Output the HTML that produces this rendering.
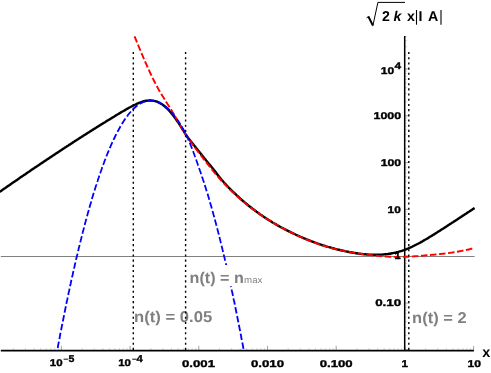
<!DOCTYPE html>
<html><head><meta charset="utf-8"><style>
html,body{margin:0;padding:0;background:#fff;}
svg{display:block;will-change:transform;opacity:0.999}
text{font-family:"Liberation Sans",sans-serif;font-weight:bold;fill:#000;text-rendering:geometricPrecision}
</style></head><body>
<svg width="491" height="373" viewBox="0 0 491 373">
<rect width="491" height="373" fill="#fff"/>
<!-- gray line y=1 -->
<line x1="0.8" y1="256.5" x2="474.6" y2="256.5" stroke="#808080" stroke-width="1"/>
<!-- ticks -->
<line x1="13.4" y1="350.5" x2="13.4" y2="348.1" stroke="#999" stroke-width="0.4"/>
<line x1="25.5" y1="350.5" x2="25.5" y2="348.1" stroke="#999" stroke-width="0.4"/>
<line x1="34.1" y1="350.5" x2="34.1" y2="348.1" stroke="#999" stroke-width="0.4"/>
<line x1="40.7" y1="350.5" x2="40.7" y2="348.1" stroke="#999" stroke-width="0.4"/>
<line x1="46.2" y1="350.5" x2="46.2" y2="348.1" stroke="#999" stroke-width="0.4"/>
<line x1="50.8" y1="350.5" x2="50.8" y2="348.1" stroke="#999" stroke-width="0.4"/>
<line x1="54.7" y1="350.5" x2="54.7" y2="348.1" stroke="#999" stroke-width="0.4"/>
<line x1="58.3" y1="350.5" x2="58.3" y2="348.1" stroke="#999" stroke-width="0.4"/>
<line x1="61.4" y1="350.5" x2="61.4" y2="345.9" stroke="#999" stroke-width="0.9"/>
<line x1="82.1" y1="350.5" x2="82.1" y2="348.1" stroke="#999" stroke-width="0.4"/>
<line x1="94.2" y1="350.5" x2="94.2" y2="348.1" stroke="#999" stroke-width="0.4"/>
<line x1="102.8" y1="350.5" x2="102.8" y2="348.1" stroke="#999" stroke-width="0.4"/>
<line x1="109.4" y1="350.5" x2="109.4" y2="348.1" stroke="#999" stroke-width="0.4"/>
<line x1="114.9" y1="350.5" x2="114.9" y2="348.1" stroke="#999" stroke-width="0.4"/>
<line x1="119.5" y1="350.5" x2="119.5" y2="348.1" stroke="#999" stroke-width="0.4"/>
<line x1="123.4" y1="350.5" x2="123.4" y2="348.1" stroke="#999" stroke-width="0.4"/>
<line x1="127.0" y1="350.5" x2="127.0" y2="348.1" stroke="#999" stroke-width="0.4"/>
<line x1="130.1" y1="350.5" x2="130.1" y2="345.9" stroke="#999" stroke-width="0.9"/>
<line x1="150.8" y1="350.5" x2="150.8" y2="348.1" stroke="#999" stroke-width="0.4"/>
<line x1="162.9" y1="350.5" x2="162.9" y2="348.1" stroke="#999" stroke-width="0.4"/>
<line x1="171.5" y1="350.5" x2="171.5" y2="348.1" stroke="#999" stroke-width="0.4"/>
<line x1="178.1" y1="350.5" x2="178.1" y2="348.1" stroke="#999" stroke-width="0.4"/>
<line x1="183.6" y1="350.5" x2="183.6" y2="348.1" stroke="#999" stroke-width="0.4"/>
<line x1="188.2" y1="350.5" x2="188.2" y2="348.1" stroke="#999" stroke-width="0.4"/>
<line x1="192.1" y1="350.5" x2="192.1" y2="348.1" stroke="#999" stroke-width="0.4"/>
<line x1="195.7" y1="350.5" x2="195.7" y2="348.1" stroke="#999" stroke-width="0.4"/>
<line x1="198.8" y1="350.5" x2="198.8" y2="345.9" stroke="#999" stroke-width="0.9"/>
<line x1="219.5" y1="350.5" x2="219.5" y2="348.1" stroke="#999" stroke-width="0.4"/>
<line x1="231.6" y1="350.5" x2="231.6" y2="348.1" stroke="#999" stroke-width="0.4"/>
<line x1="240.2" y1="350.5" x2="240.2" y2="348.1" stroke="#999" stroke-width="0.4"/>
<line x1="246.8" y1="350.5" x2="246.8" y2="348.1" stroke="#999" stroke-width="0.4"/>
<line x1="252.3" y1="350.5" x2="252.3" y2="348.1" stroke="#999" stroke-width="0.4"/>
<line x1="256.9" y1="350.5" x2="256.9" y2="348.1" stroke="#999" stroke-width="0.4"/>
<line x1="260.8" y1="350.5" x2="260.8" y2="348.1" stroke="#999" stroke-width="0.4"/>
<line x1="264.4" y1="350.5" x2="264.4" y2="348.1" stroke="#999" stroke-width="0.4"/>
<line x1="267.5" y1="350.5" x2="267.5" y2="345.9" stroke="#999" stroke-width="0.9"/>
<line x1="288.2" y1="350.5" x2="288.2" y2="348.1" stroke="#999" stroke-width="0.4"/>
<line x1="300.3" y1="350.5" x2="300.3" y2="348.1" stroke="#999" stroke-width="0.4"/>
<line x1="308.9" y1="350.5" x2="308.9" y2="348.1" stroke="#999" stroke-width="0.4"/>
<line x1="315.5" y1="350.5" x2="315.5" y2="348.1" stroke="#999" stroke-width="0.4"/>
<line x1="321.0" y1="350.5" x2="321.0" y2="348.1" stroke="#999" stroke-width="0.4"/>
<line x1="325.6" y1="350.5" x2="325.6" y2="348.1" stroke="#999" stroke-width="0.4"/>
<line x1="329.5" y1="350.5" x2="329.5" y2="348.1" stroke="#999" stroke-width="0.4"/>
<line x1="333.1" y1="350.5" x2="333.1" y2="348.1" stroke="#999" stroke-width="0.4"/>
<line x1="336.2" y1="350.5" x2="336.2" y2="345.9" stroke="#999" stroke-width="0.9"/>
<line x1="356.9" y1="350.5" x2="356.9" y2="348.1" stroke="#999" stroke-width="0.4"/>
<line x1="369.0" y1="350.5" x2="369.0" y2="348.1" stroke="#999" stroke-width="0.4"/>
<line x1="377.6" y1="350.5" x2="377.6" y2="348.1" stroke="#999" stroke-width="0.4"/>
<line x1="384.2" y1="350.5" x2="384.2" y2="348.1" stroke="#999" stroke-width="0.4"/>
<line x1="389.7" y1="350.5" x2="389.7" y2="348.1" stroke="#999" stroke-width="0.4"/>
<line x1="394.3" y1="350.5" x2="394.3" y2="348.1" stroke="#999" stroke-width="0.4"/>
<line x1="398.2" y1="350.5" x2="398.2" y2="348.1" stroke="#999" stroke-width="0.4"/>
<line x1="401.8" y1="350.5" x2="401.8" y2="348.1" stroke="#999" stroke-width="0.4"/>
<line x1="404.9" y1="350.5" x2="404.9" y2="345.9" stroke="#999" stroke-width="0.9"/>
<line x1="425.6" y1="350.5" x2="425.6" y2="348.1" stroke="#999" stroke-width="0.4"/>
<line x1="437.7" y1="350.5" x2="437.7" y2="348.1" stroke="#999" stroke-width="0.4"/>
<line x1="446.3" y1="350.5" x2="446.3" y2="348.1" stroke="#999" stroke-width="0.4"/>
<line x1="452.9" y1="350.5" x2="452.9" y2="348.1" stroke="#999" stroke-width="0.4"/>
<line x1="458.4" y1="350.5" x2="458.4" y2="348.1" stroke="#999" stroke-width="0.4"/>
<line x1="463.0" y1="350.5" x2="463.0" y2="348.1" stroke="#999" stroke-width="0.4"/>
<line x1="466.9" y1="350.5" x2="466.9" y2="348.1" stroke="#999" stroke-width="0.4"/>
<line x1="470.5" y1="350.5" x2="470.5" y2="348.1" stroke="#999" stroke-width="0.4"/>
<line x1="473.6" y1="350.5" x2="473.6" y2="345.9" stroke="#999" stroke-width="0.9"/>
<line x1="404.9" y1="349.8" x2="408.79999999999995" y2="349.8" stroke="#999" stroke-width="0.9"/>
<line x1="404.9" y1="335.7" x2="407.09999999999997" y2="335.7" stroke="#999" stroke-width="0.4"/>
<line x1="404.9" y1="327.5" x2="407.09999999999997" y2="327.5" stroke="#999" stroke-width="0.4"/>
<line x1="404.9" y1="321.6" x2="407.09999999999997" y2="321.6" stroke="#999" stroke-width="0.4"/>
<line x1="404.9" y1="317.1" x2="407.09999999999997" y2="317.1" stroke="#999" stroke-width="0.4"/>
<line x1="404.9" y1="313.4" x2="407.09999999999997" y2="313.4" stroke="#999" stroke-width="0.4"/>
<line x1="404.9" y1="310.2" x2="407.09999999999997" y2="310.2" stroke="#999" stroke-width="0.4"/>
<line x1="404.9" y1="307.5" x2="407.09999999999997" y2="307.5" stroke="#999" stroke-width="0.4"/>
<line x1="404.9" y1="305.1" x2="407.09999999999997" y2="305.1" stroke="#999" stroke-width="0.4"/>
<line x1="404.9" y1="303.0" x2="408.79999999999995" y2="303.0" stroke="#999" stroke-width="0.9"/>
<line x1="404.9" y1="288.9" x2="407.09999999999997" y2="288.9" stroke="#999" stroke-width="0.4"/>
<line x1="404.9" y1="280.7" x2="407.09999999999997" y2="280.7" stroke="#999" stroke-width="0.4"/>
<line x1="404.9" y1="274.8" x2="407.09999999999997" y2="274.8" stroke="#999" stroke-width="0.4"/>
<line x1="404.9" y1="270.3" x2="407.09999999999997" y2="270.3" stroke="#999" stroke-width="0.4"/>
<line x1="404.9" y1="266.6" x2="407.09999999999997" y2="266.6" stroke="#999" stroke-width="0.4"/>
<line x1="404.9" y1="263.4" x2="407.09999999999997" y2="263.4" stroke="#999" stroke-width="0.4"/>
<line x1="404.9" y1="260.7" x2="407.09999999999997" y2="260.7" stroke="#999" stroke-width="0.4"/>
<line x1="404.9" y1="258.3" x2="407.09999999999997" y2="258.3" stroke="#999" stroke-width="0.4"/>
<line x1="404.9" y1="256.2" x2="408.79999999999995" y2="256.2" stroke="#999" stroke-width="0.9"/>
<line x1="404.9" y1="242.1" x2="407.09999999999997" y2="242.1" stroke="#999" stroke-width="0.4"/>
<line x1="404.9" y1="233.9" x2="407.09999999999997" y2="233.9" stroke="#999" stroke-width="0.4"/>
<line x1="404.9" y1="228.0" x2="407.09999999999997" y2="228.0" stroke="#999" stroke-width="0.4"/>
<line x1="404.9" y1="223.5" x2="407.09999999999997" y2="223.5" stroke="#999" stroke-width="0.4"/>
<line x1="404.9" y1="219.8" x2="407.09999999999997" y2="219.8" stroke="#999" stroke-width="0.4"/>
<line x1="404.9" y1="216.6" x2="407.09999999999997" y2="216.6" stroke="#999" stroke-width="0.4"/>
<line x1="404.9" y1="213.9" x2="407.09999999999997" y2="213.9" stroke="#999" stroke-width="0.4"/>
<line x1="404.9" y1="211.5" x2="407.09999999999997" y2="211.5" stroke="#999" stroke-width="0.4"/>
<line x1="404.9" y1="209.4" x2="408.79999999999995" y2="209.4" stroke="#999" stroke-width="0.9"/>
<line x1="404.9" y1="195.3" x2="407.09999999999997" y2="195.3" stroke="#999" stroke-width="0.4"/>
<line x1="404.9" y1="187.1" x2="407.09999999999997" y2="187.1" stroke="#999" stroke-width="0.4"/>
<line x1="404.9" y1="181.2" x2="407.09999999999997" y2="181.2" stroke="#999" stroke-width="0.4"/>
<line x1="404.9" y1="176.7" x2="407.09999999999997" y2="176.7" stroke="#999" stroke-width="0.4"/>
<line x1="404.9" y1="173.0" x2="407.09999999999997" y2="173.0" stroke="#999" stroke-width="0.4"/>
<line x1="404.9" y1="169.8" x2="407.09999999999997" y2="169.8" stroke="#999" stroke-width="0.4"/>
<line x1="404.9" y1="167.1" x2="407.09999999999997" y2="167.1" stroke="#999" stroke-width="0.4"/>
<line x1="404.9" y1="164.7" x2="407.09999999999997" y2="164.7" stroke="#999" stroke-width="0.4"/>
<line x1="404.9" y1="162.6" x2="408.79999999999995" y2="162.6" stroke="#999" stroke-width="0.9"/>
<line x1="404.9" y1="148.5" x2="407.09999999999997" y2="148.5" stroke="#999" stroke-width="0.4"/>
<line x1="404.9" y1="140.3" x2="407.09999999999997" y2="140.3" stroke="#999" stroke-width="0.4"/>
<line x1="404.9" y1="134.4" x2="407.09999999999997" y2="134.4" stroke="#999" stroke-width="0.4"/>
<line x1="404.9" y1="129.9" x2="407.09999999999997" y2="129.9" stroke="#999" stroke-width="0.4"/>
<line x1="404.9" y1="126.2" x2="407.09999999999997" y2="126.2" stroke="#999" stroke-width="0.4"/>
<line x1="404.9" y1="123.0" x2="407.09999999999997" y2="123.0" stroke="#999" stroke-width="0.4"/>
<line x1="404.9" y1="120.3" x2="407.09999999999997" y2="120.3" stroke="#999" stroke-width="0.4"/>
<line x1="404.9" y1="117.9" x2="407.09999999999997" y2="117.9" stroke="#999" stroke-width="0.4"/>
<line x1="404.9" y1="115.8" x2="408.79999999999995" y2="115.8" stroke="#999" stroke-width="0.9"/>
<line x1="404.9" y1="101.7" x2="407.09999999999997" y2="101.7" stroke="#999" stroke-width="0.4"/>
<line x1="404.9" y1="93.5" x2="407.09999999999997" y2="93.5" stroke="#999" stroke-width="0.4"/>
<line x1="404.9" y1="87.6" x2="407.09999999999997" y2="87.6" stroke="#999" stroke-width="0.4"/>
<line x1="404.9" y1="83.1" x2="407.09999999999997" y2="83.1" stroke="#999" stroke-width="0.4"/>
<line x1="404.9" y1="79.4" x2="407.09999999999997" y2="79.4" stroke="#999" stroke-width="0.4"/>
<line x1="404.9" y1="76.2" x2="407.09999999999997" y2="76.2" stroke="#999" stroke-width="0.4"/>
<line x1="404.9" y1="73.5" x2="407.09999999999997" y2="73.5" stroke="#999" stroke-width="0.4"/>
<line x1="404.9" y1="71.1" x2="407.09999999999997" y2="71.1" stroke="#999" stroke-width="0.4"/>
<line x1="404.9" y1="69.0" x2="408.79999999999995" y2="69.0" stroke="#999" stroke-width="0.9"/>
<line x1="404.9" y1="54.9" x2="407.09999999999997" y2="54.9" stroke="#999" stroke-width="0.4"/>
<line x1="404.9" y1="46.7" x2="407.09999999999997" y2="46.7" stroke="#999" stroke-width="0.4"/>
<line x1="404.9" y1="40.8" x2="407.09999999999997" y2="40.8" stroke="#999" stroke-width="0.4"/>
<line x1="404.9" y1="36.3" x2="407.09999999999997" y2="36.3" stroke="#999" stroke-width="0.4"/>
<!-- axes -->
<line x1="0.8" y1="350.65" x2="473.9" y2="350.65" stroke="#000" stroke-width="1.6"/>
<line x1="404.7" y1="36" x2="404.7" y2="350.5" stroke="#000" stroke-width="1.5"/>
<!-- curves -->
<clipPath id="cp"><rect x="-5" y="30" width="480" height="320.5"/></clipPath>
<g clip-path="url(#cp)" fill="none" stroke-linejoin="round">
<path d="M-3.0,193.7 L0.0,191.6 L1.0,190.9 L2.0,190.2 L3.0,189.5 L4.0,188.8 L5.0,188.2 L6.0,187.5 L7.0,186.8 L8.0,186.1 L9.0,185.4 L10.0,184.7 L11.0,184.0 L12.0,183.3 L13.0,182.6 L14.0,181.9 L15.0,181.2 L16.0,180.6 L17.0,179.9 L18.0,179.2 L19.0,178.5 L20.0,177.8 L21.0,177.1 L22.0,176.4 L23.0,175.8 L24.0,175.1 L25.0,174.4 L26.0,173.7 L27.0,173.0 L28.0,172.3 L29.0,171.7 L30.0,171.0 L31.0,170.3 L32.0,169.6 L33.0,168.9 L34.0,168.3 L35.0,167.6 L36.0,166.9 L37.0,166.2 L38.0,165.6 L39.0,164.9 L40.0,164.2 L41.0,163.5 L42.0,162.9 L43.0,162.2 L44.0,161.5 L45.0,160.9 L46.0,160.2 L47.0,159.5 L48.0,158.9 L49.0,158.2 L50.0,157.5 L51.0,156.9 L52.0,156.2 L53.0,155.5 L54.0,154.9 L55.0,154.2 L56.0,153.5 L57.0,152.9 L58.0,152.2 L59.0,151.6 L60.0,150.9 L61.0,150.2 L62.0,149.6 L63.0,148.9 L64.0,148.3 L65.0,147.6 L66.0,147.0 L67.0,146.3 L68.0,145.7 L69.0,145.0 L70.0,144.4 L71.0,143.7 L72.0,143.1 L73.0,142.4 L74.0,141.8 L75.0,141.1 L76.0,140.5 L77.0,139.8 L78.0,139.2 L79.0,138.5 L80.0,137.9 L81.0,137.3 L82.0,136.6 L83.0,136.0 L84.0,135.3 L85.0,134.7 L86.0,134.1 L87.0,133.4 L88.0,132.8 L89.0,132.2 L90.0,131.5 L91.0,130.9 L92.0,130.3 L93.0,129.6 L94.0,129.0 L95.0,128.4 L96.0,127.8 L97.0,127.1 L98.0,126.5 L99.0,125.9 L100.0,125.3 L101.0,124.6 L102.0,124.0 L103.0,123.4 L104.0,122.8 L105.0,122.2 L106.0,121.5 L107.0,120.9 L108.0,120.3 L109.0,119.7 L110.0,119.1 L111.0,118.5 L112.0,117.9 L113.0,117.3 L114.0,116.7 L115.0,116.0 L116.0,115.4 L117.0,114.8 L118.0,114.2 L119.0,113.6 L120.0,113.0 L121.0,112.4 L122.0,111.8 L123.0,111.3 L124.0,110.7 L125.0,110.1 L126.0,109.5 L127.0,108.9 L128.0,108.4 L129.0,107.8 L130.0,107.3 L131.0,106.7 L132.0,106.2 L133.0,105.7 L134.0,105.2 L135.0,104.7 L136.0,104.2 L137.0,103.7 L138.0,103.3 L139.0,102.9 L140.0,102.5 L141.0,102.1 L142.0,101.8 L143.0,101.5 L144.0,101.2 L145.0,101.0 L146.0,100.8 L147.0,100.7 L148.0,100.6 L149.0,100.5 L150.0,100.5 L151.0,100.5 L152.0,100.6 L153.0,100.7 L154.0,100.9 L155.0,101.1 L156.0,101.4 L157.0,101.7 L158.0,102.1 L159.0,102.6 L160.0,103.1 L161.0,103.7 L162.0,104.3 L163.0,105.0 L164.0,105.8 L165.0,106.6 L166.0,107.5 L167.0,108.4 L168.0,109.4 L169.0,110.4 L170.0,111.6 L171.0,112.7 L172.0,114.0 L173.0,115.3 L174.0,116.6 L175.0,117.9 L176.0,119.3 L177.0,120.8 L178.0,122.2 L179.0,123.7 L180.0,125.3 L181.0,126.8 L182.0,128.5 L183.0,130.1 L184.0,131.7 L185.0,133.3 L186.0,134.8 L187.0,136.2 L188.0,137.6 L189.0,139.0 L190.0,140.3 L191.0,141.6 L192.0,142.8 L193.0,144.0 L194.0,145.3 L195.0,146.5 L196.0,147.8 L197.0,149.0 L198.0,150.3 L199.0,151.5 L200.0,152.8 L201.0,154.0 L202.0,155.3 L203.0,156.5 L204.0,157.8 L205.0,159.0 L206.0,160.3 L207.0,161.5 L208.0,162.7 L209.0,163.9 L210.0,165.1 L211.0,166.3 L212.0,167.6 L213.0,168.8 L214.0,170.1 L215.0,171.3 L216.0,172.6 L217.0,173.9 L218.0,175.2 L219.0,176.5 L220.0,177.7 L221.0,179.0 L222.0,180.2 L223.0,181.3 L224.0,182.5 L225.0,183.6 L226.0,184.6 L227.0,185.7 L228.0,186.8 L229.0,187.8 L230.0,188.8 L231.0,189.8 L232.0,190.8 L233.0,191.8 L234.0,192.7 L235.0,193.7 L236.0,194.6 L237.0,195.6 L238.0,196.5 L239.0,197.4 L240.0,198.3 L241.0,199.2 L242.0,200.1 L243.0,201.0 L244.0,201.8 L245.0,202.7 L246.0,203.5 L247.0,204.3 L248.0,205.1 L249.0,206.0 L250.0,206.7 L251.0,207.5 L252.0,208.3 L253.0,209.1 L254.0,209.8 L255.0,210.6 L256.0,211.3 L257.0,212.1 L258.0,212.8 L259.0,213.5 L260.0,214.2 L261.0,214.9 L262.0,215.6 L263.0,216.3 L264.0,217.0 L265.0,217.6 L266.0,218.3 L267.0,218.9 L268.0,219.6 L269.0,220.2 L270.0,220.8 L271.0,221.4 L272.0,222.1 L273.0,222.7 L274.0,223.2 L275.0,223.8 L276.0,224.4 L277.0,225.0 L278.0,225.6 L279.0,226.1 L280.0,226.7 L281.0,227.2 L282.0,227.8 L283.0,228.3 L284.0,228.8 L285.0,229.4 L286.0,229.9 L287.0,230.4 L288.0,230.9 L289.0,231.4 L290.0,231.9 L291.0,232.4 L292.0,232.9 L293.0,233.3 L294.0,233.8 L295.0,234.3 L296.0,234.8 L297.0,235.2 L298.0,235.7 L299.0,236.1 L300.0,236.6 L301.0,237.0 L302.0,237.4 L303.0,237.9 L304.0,238.3 L305.0,238.7 L306.0,239.1 L307.0,239.5 L308.0,239.9 L309.0,240.3 L310.0,240.7 L311.0,241.1 L312.0,241.5 L313.0,241.8 L314.0,242.2 L315.0,242.6 L316.0,242.9 L317.0,243.3 L318.0,243.6 L319.0,244.0 L320.0,244.3 L321.0,244.7 L322.0,245.0 L323.0,245.3 L324.0,245.6 L325.0,245.9 L326.0,246.3 L327.0,246.6 L328.0,246.9 L329.0,247.1 L330.0,247.4 L331.0,247.7 L332.0,248.0 L333.0,248.3 L334.0,248.5 L335.0,248.8 L336.0,249.1 L337.0,249.3 L338.0,249.6 L339.0,249.8 L340.0,250.0 L341.0,250.3 L342.0,250.5 L343.0,250.7 L344.0,250.9 L345.0,251.2 L346.0,251.4 L347.0,251.6 L348.0,251.8 L349.0,252.0 L350.0,252.2 L351.0,252.3 L352.0,252.5 L353.0,252.7 L354.0,252.9 L355.0,253.0 L356.0,253.2 L357.0,253.3 L358.0,253.5 L359.0,253.6 L360.0,253.7 L361.0,253.9 L362.0,254.0 L363.0,254.1 L364.0,254.2 L365.0,254.3 L366.0,254.4 L367.0,254.5 L368.0,254.5 L369.0,254.6 L370.0,254.6 L371.0,254.7 L372.0,254.7 L373.0,254.8 L374.0,254.8 L375.0,254.8 L376.0,254.8 L377.0,254.8 L378.0,254.8 L379.0,254.7 L380.0,254.7 L381.0,254.6 L382.0,254.6 L383.0,254.5 L384.0,254.4 L385.0,254.3 L386.0,254.2 L387.0,254.1 L388.0,254.0 L389.0,253.8 L390.0,253.7 L391.0,253.5 L392.0,253.3 L393.0,253.1 L394.0,252.9 L395.0,252.7 L396.0,252.5 L397.0,252.2 L398.0,252.0 L399.0,251.7 L400.0,251.4 L401.0,251.1 L402.0,250.8 L403.0,250.4 L404.0,250.1 L405.0,249.7 L406.0,249.3 L407.0,249.0 L408.0,248.5 L409.0,248.1 L410.0,247.7 L411.0,247.2 L412.0,246.8 L413.0,246.3 L414.0,245.8 L415.0,245.3 L416.0,244.8 L417.0,244.3 L418.0,243.8 L419.0,243.2 L420.0,242.7 L421.0,242.1 L422.0,241.6 L423.0,241.0 L424.0,240.4 L425.0,239.8 L426.0,239.3 L427.0,238.7 L428.0,238.1 L429.0,237.4 L430.0,236.8 L431.0,236.2 L432.0,235.6 L433.0,235.0 L434.0,234.4 L435.0,233.7 L436.0,233.1 L437.0,232.5 L438.0,231.8 L439.0,231.2 L440.0,230.6 L441.0,229.9 L442.0,229.3 L443.0,228.7 L444.0,228.0 L445.0,227.4 L446.0,226.7 L447.0,226.1 L448.0,225.4 L449.0,224.8 L450.0,224.1 L451.0,223.5 L452.0,222.8 L453.0,222.2 L454.0,221.5 L455.0,220.9 L456.0,220.2 L457.0,219.6 L458.0,218.9 L459.0,218.3 L460.0,217.6 L461.0,217.0 L462.0,216.3 L463.0,215.6 L464.0,215.0 L465.0,214.3 L466.0,213.7 L467.0,213.0 L468.0,212.3 L469.0,211.7 L470.0,211.0 L471.0,210.4 L472.0,209.7 L473.0,209.0 L474.0,208.4 L474.6,208.0" stroke="#000" stroke-width="2.4"/>
<path d="M134.5,36.3 L135.5,38.7 L136.5,41.1 L137.5,43.6 L138.5,46.0 L139.5,48.4 L140.5,50.8 L141.5,53.1 L142.5,55.5 L143.5,57.8 L144.5,60.2 L145.5,62.5 L146.5,64.7 L147.5,67.0 L148.5,69.2 L149.5,71.4 L150.5,73.5 L151.5,75.7 L152.5,77.7 L153.5,79.8 L154.5,81.7 L155.5,83.7 L156.5,85.6 L157.5,87.4 L158.5,89.2 L159.5,90.9 L160.5,92.6 L161.5,94.3 L162.5,96.0 L163.5,97.6 L164.5,99.2 L165.5,100.8 L166.5,102.4 L167.5,104.0 L168.5,105.5 L169.5,107.1 L170.5,108.7 L171.5,110.3 L172.5,112.0 L173.5,113.6 L174.5,115.3 L175.5,117.0 L176.5,118.7 L177.5,120.5 L178.5,122.3 L179.5,124.0 L180.5,125.8 L181.5,127.5 L182.5,129.2 L183.5,130.9 L184.5,132.6 L185.5,134.2 L186.5,135.7 L187.5,137.2 L188.5,138.7 L189.5,140.1 L190.5,141.5 L191.5,142.9 L192.5,144.3 L193.5,145.6 L194.5,147.0 L195.5,148.3 L196.5,149.7 L197.5,151.0 L198.5,152.3 L199.5,153.6 L200.5,154.9 L201.5,156.2 L202.5,157.5 L203.5,158.8 L204.5,160.1 L205.5,161.3 L206.5,162.6 L207.5,163.9 L208.5,165.2 L209.5,166.5 L210.5,167.7 L211.5,169.0 L212.5,170.2 L213.5,171.5 L214.5,172.7 L215.5,173.9 L216.5,175.1 L217.5,176.3 L218.5,177.4 L219.5,178.5 L220.5,179.7 L221.5,180.8 L222.5,181.9 L223.5,182.9 L224.5,184.0 L225.5,185.0 L226.5,186.1 L227.5,187.1 L228.5,188.1 L229.5,189.1 L230.5,190.1 L231.5,191.0 L232.5,192.0 L233.5,192.9 L234.5,193.9 L235.5,194.8 L236.5,195.7 L237.5,196.6 L238.5,197.5 L239.5,198.4 L240.5,199.2 L241.5,200.1 L242.5,200.9 L243.5,201.8 L244.5,202.6 L245.5,203.4 L246.5,204.2 L247.5,205.0 L248.5,205.8 L249.5,206.6 L250.5,207.3 L251.5,208.1 L252.5,208.9 L253.5,209.6 L254.5,210.3 L255.5,211.1 L256.5,211.8 L257.5,212.5 L258.5,213.2 L259.5,213.9 L260.5,214.6 L261.5,215.3 L262.5,215.9 L263.5,216.6 L264.5,217.3 L265.5,217.9 L266.5,218.6 L267.5,219.2 L268.5,219.8 L269.5,220.5 L270.5,221.1 L271.5,221.7 L272.5,222.3 L273.5,222.9 L274.5,223.5 L275.5,224.1 L276.5,224.7 L277.5,225.2 L278.5,225.8 L279.5,226.4 L280.5,226.9 L281.5,227.5 L282.5,228.0 L283.5,228.6 L284.5,229.1 L285.5,229.6 L286.5,230.2 L287.5,230.7 L288.5,231.2 L289.5,231.7 L290.5,232.2 L291.5,232.7 L292.5,233.2 L293.5,233.7 L294.5,234.2 L295.5,234.6 L296.5,235.1 L297.5,235.6 L298.5,236.0 L299.5,236.5 L300.5,236.9 L301.5,237.4 L302.5,237.8 L303.5,238.3 L304.5,238.7 L305.5,239.1 L306.5,239.5 L307.5,239.9 L308.5,240.3 L309.5,240.7 L310.5,241.1 L311.5,241.5 L312.5,241.9 L313.5,242.3 L314.5,242.6 L315.5,243.0 L316.5,243.4 L317.5,243.7 L318.5,244.1 L319.5,244.4 L320.5,244.7 L321.5,245.1 L322.5,245.4 L323.5,245.7 L324.5,246.0 L325.5,246.3 L326.5,246.6 L327.5,246.9 L328.5,247.2 L329.5,247.5 L330.5,247.8 L331.5,248.0 L332.5,248.3 L333.5,248.6 L334.5,248.8 L335.5,249.1 L336.5,249.3 L337.5,249.5 L338.5,249.8 L339.5,250.0 L340.5,250.2 L341.5,250.4 L342.5,250.6 L343.5,250.9 L344.5,251.1 L345.5,251.3 L346.5,251.5 L347.5,251.6 L348.5,251.8 L349.5,252.0 L350.5,252.2 L351.5,252.4 L352.5,252.5 L353.5,252.7 L354.5,252.9 L355.5,253.0 L356.5,253.2 L357.5,253.3 L358.5,253.5 L359.5,253.6 L360.5,253.8 L361.5,253.9 L362.5,254.1 L363.5,254.2 L364.5,254.3 L365.5,254.5 L366.5,254.6 L367.5,254.7 L368.5,254.8 L369.5,254.9 L370.5,255.1 L371.5,255.2 L372.5,255.3 L373.5,255.4 L374.5,255.5 L375.5,255.6 L376.5,255.7 L377.5,255.8 L378.5,255.9 L379.5,256.0 L380.5,256.1 L381.5,256.2 L382.5,256.3 L383.5,256.4 L384.5,256.4 L385.5,256.5 L386.5,256.6 L387.5,256.6 L388.5,256.7 L389.5,256.8 L390.5,256.8 L391.5,256.8 L392.5,256.9 L393.5,256.9 L394.5,256.9 L395.5,257.0 L396.5,257.0 L397.5,257.0 L398.5,257.0 L399.5,257.0 L400.5,257.0 L401.5,257.0 L402.5,256.9 L403.5,256.9 L404.5,256.9 L405.5,256.8 L406.5,256.8 L407.5,256.7 L408.5,256.7 L409.5,256.6 L410.5,256.6 L411.5,256.5 L412.5,256.4 L413.5,256.4 L414.5,256.3 L415.5,256.2 L416.5,256.1 L417.5,256.1 L418.5,256.0 L419.5,255.9 L420.5,255.8 L421.5,255.7 L422.5,255.7 L423.5,255.6 L424.5,255.5 L425.5,255.4 L426.5,255.3 L427.5,255.3 L428.5,255.2 L429.5,255.1 L430.5,255.0 L431.5,254.9 L432.5,254.8 L433.5,254.7 L434.5,254.6 L435.5,254.5 L436.5,254.4 L437.5,254.3 L438.5,254.2 L439.5,254.1 L440.5,254.0 L441.5,253.9 L442.5,253.8 L443.5,253.7 L444.5,253.6 L445.5,253.4 L446.5,253.3 L447.5,253.2 L448.5,253.1 L449.5,252.9 L450.5,252.8 L451.5,252.6 L452.5,252.5 L453.5,252.3 L454.5,252.2 L455.5,252.0 L456.5,251.8 L457.5,251.7 L458.5,251.5 L459.5,251.3 L460.5,251.1 L461.5,250.9 L462.5,250.7 L463.5,250.5 L464.5,250.3 L465.5,250.1 L466.5,249.9 L467.5,249.7 L468.5,249.5 L469.5,249.2 L470.5,249.0 L471.5,248.7 L472.5,248.5 L473.5,248.2 L474.5,247.9 L474.6,247.9" stroke="#f00" stroke-width="1.9" stroke-dasharray="6.55 2.53"/>
<path d="M56.9,352.0 L57.1,351.0 L57.3,350.0 L57.5,349.0 L57.7,348.0 L57.9,347.0 L58.0,346.0 L58.2,345.0 L58.4,344.0 L58.6,343.0 L58.8,342.0 L59.0,341.0 L59.2,340.0 L59.4,339.0 L59.6,338.0 L59.8,337.0 L59.9,336.0 L60.1,335.0 L60.3,334.0 L60.5,333.0 L60.7,332.0 L60.9,331.0 L61.1,330.0 L61.3,329.0 L61.5,328.0 L61.7,327.0 L61.9,326.0 L62.1,325.0 L62.3,324.0 L62.5,323.0 L62.7,322.0 L62.9,321.0 L63.1,320.0 L63.3,319.0 L63.5,318.0 L63.7,317.0 L63.9,316.0 L64.1,315.0 L64.3,314.0 L64.5,313.0 L64.7,312.0 L64.9,311.0 L65.1,310.0 L65.3,309.0 L65.5,308.0 L65.7,307.0 L65.9,306.0 L66.1,305.0 L66.3,304.0 L66.5,303.0 L66.7,302.0 L66.9,301.0 L67.2,300.0 L67.4,299.0 L67.6,298.0 L67.8,297.0 L68.0,296.0 L68.2,295.0 L68.4,294.0 L68.6,293.0 L68.8,292.0 L69.1,291.0 L69.3,290.0 L69.5,289.0 L69.7,288.0 L69.9,287.0 L70.1,286.0 L70.3,285.0 L70.6,284.0 L70.8,283.0 L71.0,282.0 L71.2,281.0 L71.4,280.0 L71.7,279.0 L71.9,278.0 L72.1,277.0 L72.3,276.0 L72.6,275.0 L72.8,274.0 L73.0,273.0 L73.2,272.0 L73.5,271.0 L73.7,270.0 L73.9,269.0 L74.1,268.0 L74.4,267.0 L74.6,266.0 L74.8,265.0 L75.0,264.0 L75.3,263.0 L75.5,262.0 L75.7,261.0 L76.0,260.0 L76.2,259.0 L76.4,258.0 L76.7,257.0 L76.9,256.0 L77.2,255.0 L77.4,254.0 L77.6,253.0 L77.9,252.0 L78.1,251.0 L78.4,250.0 L78.6,249.0 L78.8,248.0 L79.1,247.0 L79.3,246.0 L79.6,245.0 L79.8,244.0 L80.1,243.0 L80.3,242.0 L80.6,241.0 L80.8,240.0 L81.1,239.0 L81.3,238.0 L81.6,237.0 L81.8,236.0 L82.1,235.0 L82.3,234.0 L82.6,233.0 L82.8,232.0 L83.1,231.0 L83.4,230.0 L83.6,229.0 L83.9,228.0 L84.1,227.0 L84.4,226.0 L84.7,225.0 L84.9,224.0 L85.2,223.0 L85.5,222.0 L85.7,221.0 L86.0,220.0 L86.3,219.0 L86.5,218.0 L86.8,217.0 L87.1,216.0 L87.4,215.0 L87.6,214.0 L87.9,213.0 L88.2,212.0 L88.5,211.0 L88.8,210.0 L89.0,209.0 L89.3,208.0 L89.6,207.0 L89.9,206.0 L90.2,205.0 L90.5,204.0 L90.8,203.0 L91.1,202.0 L91.3,201.0 L91.6,200.0 L91.9,199.0 L92.2,198.0 L92.5,197.0 L92.8,196.0 L93.1,195.0 L93.4,194.0 L93.7,193.0 L94.1,192.0 L94.4,191.0 L94.7,190.0 L95.0,189.0 L95.3,188.0 L95.6,187.0 L95.9,186.0 L96.3,185.0 L96.6,184.0 L96.9,183.0 L97.2,182.0 L97.6,181.0 L97.9,180.0 L98.2,179.0 L98.6,178.0 L98.9,177.0 L99.2,176.0 L99.6,175.0 L99.9,174.0 L100.3,173.0 L100.6,172.0 L101.0,171.0 L101.3,170.0 L101.7,169.0 L102.0,168.0 L102.4,167.0 L102.7,166.0 L103.1,165.0 L103.5,164.0 L103.9,163.0 L104.2,162.0 L104.6,161.0 L105.0,160.0 L105.4,159.0 L105.8,158.0 L106.1,157.0 L106.5,156.0 L106.9,155.0 L107.3,154.0 L107.7,153.0 L108.2,152.0 L108.6,151.0 L109.0,150.0 L109.4,149.0 L109.8,148.0 L110.3,147.0 L110.7,146.0 L111.1,145.0 L111.6,144.0 L112.0,143.0 L112.5,142.0 L112.9,141.0 L113.4,140.0 L113.9,139.0 L114.4,138.0 L114.9,137.0 L115.3,136.0 L115.8,135.0 L116.3,134.0 L116.9,133.0 L117.4,132.0 L117.9,131.0 L118.5,130.0 L119.0,129.0 L119.6,128.0 L120.1,127.0 L120.7,126.0 L121.3,125.0 L121.9,124.0 L122.5,123.0 L123.1,122.0 L123.8,121.0 L124.4,120.0 L125.1,119.0 L125.8,118.0 L126.5,117.0 L127.3,116.0 L128.0,115.0 L128.8,114.0 L129.6,113.0 L130.5,112.0 L131.4,111.0 L132.3,110.0 L133.3,109.0 L134.3,108.0 L135.5,107.0 L136.7,106.0 L138.0,105.0 L139.5,104.0 L140.0,103.7 L141.0,103.1 L142.0,102.6 L143.0,102.1 L144.0,101.7 L145.0,101.4 L146.0,101.1 L147.0,100.9 L148.0,100.7 L149.0,100.6 L150.0,100.5 L151.0,100.5 L152.0,100.6 L153.0,100.7 L154.0,100.9 L155.0,101.1 L156.0,101.4 L157.0,101.7 L158.0,102.1 L159.0,102.6 L160.0,103.1 L161.9,104.0 L163.4,105.0 L164.8,106.0 L166.0,107.0 L167.2,108.0 L168.2,109.0 L169.3,110.0 L170.2,111.0 L171.2,112.0 L172.1,113.0 L172.9,114.0 L173.7,115.0 L174.5,116.0 L175.3,117.0 L176.1,118.0 L176.8,119.0 L177.5,120.0 L178.2,121.0 L178.9,122.0 L179.5,123.0 L180.1,124.0 L180.8,125.0 L181.4,126.0 L182.0,127.0 L182.5,128.0 L183.1,129.0 L183.6,130.0 L184.2,131.0 L184.7,132.0 L185.2,133.0 L185.7,134.0 L186.2,135.0 L186.7,136.0 L187.2,137.0 L187.6,138.0 L188.1,139.0 L188.5,140.0 L189.0,141.0 L189.4,142.0 L189.8,143.0 L190.2,144.0 L190.6,145.0 L191.0,146.0 L191.4,147.0 L191.8,148.0 L192.2,149.0 L192.6,150.0 L193.0,151.0 L193.4,152.0 L193.7,153.0 L194.1,154.0 L194.5,155.0 L194.8,156.0 L195.2,157.0 L195.6,158.0 L195.9,159.0 L196.3,160.0 L196.6,161.0 L197.0,162.0 L197.3,163.0 L197.7,164.0 L198.0,165.0 L198.4,166.0 L198.7,167.0 L199.1,168.0 L199.4,169.0 L199.8,170.0 L200.1,171.0 L200.5,172.0 L200.8,173.0 L201.1,174.0 L201.5,175.0 L201.8,176.0 L202.1,177.0 L202.5,178.0 L202.8,179.0 L203.1,180.0 L203.5,181.0 L203.8,182.0 L204.1,183.0 L204.4,184.0 L204.8,185.0 L205.1,186.0 L205.4,187.0 L205.7,188.0 L206.0,189.0 L206.3,190.0 L206.6,191.0 L206.9,192.0 L207.3,193.0 L207.6,194.0 L207.9,195.0 L208.2,196.0 L208.5,197.0 L208.8,198.0 L209.1,199.0 L209.4,200.0 L209.7,201.0 L209.9,202.0 L210.2,203.0 L210.5,204.0 L210.8,205.0 L211.1,206.0 L211.4,207.0 L211.7,208.0 L212.0,209.0 L212.2,210.0 L212.5,211.0 L212.8,212.0 L213.1,213.0 L213.4,214.0 L213.6,215.0 L213.9,216.0 L214.2,217.0 L214.5,218.0 L214.7,219.0 L215.0,220.0 L215.3,221.0 L215.5,222.0 L215.8,223.0 L216.1,224.0 L216.3,225.0 L216.6,226.0 L216.9,227.0 L217.1,228.0 L217.4,229.0 L217.6,230.0 L217.9,231.0 L218.2,232.0 L218.4,233.0 L218.7,234.0 L218.9,235.0 L219.2,236.0 L219.4,237.0 L219.7,238.0 L219.9,239.0 L220.2,240.0 L220.4,241.0 L220.7,242.0 L220.9,243.0 L221.2,244.0 L221.4,245.0 L221.7,246.0 L221.9,247.0 L222.2,248.0 L222.4,249.0 L222.6,250.0 L222.9,251.0 L223.1,252.0 L223.4,253.0 L223.6,254.0 L223.8,255.0 L224.1,256.0 L224.3,257.0 L224.6,258.0 L224.8,259.0 L225.0,260.0 L225.3,261.0 L225.5,262.0 L225.7,263.0 L226.0,264.0 L226.2,265.0 L226.4,266.0 L226.6,267.0 L226.9,268.0 L227.1,269.0 L227.3,270.0 L227.5,271.0 L227.8,272.0 L228.0,273.0 L228.2,274.0 L228.4,275.0 L228.7,276.0 L228.9,277.0 L229.1,278.0 L229.3,279.0 L229.6,280.0 L229.8,281.0 L230.0,282.0 L230.2,283.0 L230.4,284.0 L230.7,285.0 L230.9,286.0 L231.1,287.0 L231.3,288.0 L231.5,289.0 L231.7,290.0 L231.9,291.0 L232.2,292.0 L232.4,293.0 L232.6,294.0 L232.8,295.0 L233.0,296.0 L233.2,297.0 L233.4,298.0 L233.6,299.0 L233.8,300.0 L234.1,301.0 L234.3,302.0 L234.5,303.0 L234.7,304.0 L234.9,305.0 L235.1,306.0 L235.3,307.0 L235.5,308.0 L235.7,309.0 L235.9,310.0 L236.1,311.0 L236.3,312.0 L236.5,313.0 L236.7,314.0 L236.9,315.0 L237.1,316.0 L237.3,317.0 L237.5,318.0 L237.7,319.0 L237.9,320.0 L238.1,321.0 L238.3,322.0 L238.5,323.0 L238.7,324.0 L238.9,325.0 L239.1,326.0 L239.3,327.0 L239.5,328.0 L239.7,329.0 L239.9,330.0 L240.1,331.0 L240.3,332.0 L240.5,333.0 L240.7,334.0 L240.9,335.0 L241.1,336.0 L241.2,337.0 L241.4,338.0 L241.6,339.0 L241.8,340.0 L242.0,341.0 L242.2,342.0 L242.4,343.0 L242.6,344.0 L242.8,345.0 L243.0,346.0 L243.1,347.0 L243.3,348.0 L243.5,349.0 L243.7,350.0 L243.9,351.0 L244.1,352.0" stroke="#00f" stroke-width="1.8" stroke-dasharray="6.5 2.5" stroke-dashoffset="-4.1"/>
</g>
<rect x="187.6" y="265" width="76" height="21.3" fill="#fff"/>
<!-- annotation text -->
<g font-size="15.6">
<text x="412.1" y="322.5" style="fill:#808080" textLength="54.5" lengthAdjust="spacingAndGlyphs">n(t) = 2</text>
<text x="134.0" y="322.2" style="fill:#808080" textLength="78.2" lengthAdjust="spacingAndGlyphs">n(t) = 0.05</text>
<text x="189.6" y="282.6" style="fill:#808080" textLength="54.2" lengthAdjust="spacingAndGlyphs">n(t) = n</text>
<text x="244.1" y="282.6" style="fill:#808080;font-weight:normal" font-size="9.2" textLength="18.3" lengthAdjust="spacingAndGlyphs">max</text>
</g>
<!-- dotted lines -->
<g stroke="#000" stroke-width="1.4" stroke-dasharray="2.1 3.09" fill="none">
<line x1="133.3" y1="52" x2="133.3" y2="350.5"/>
<line x1="185.6" y1="52" x2="185.6" y2="350.5"/>
<line x1="408.8" y1="52" x2="408.8" y2="350.5"/>
</g>
<!-- x tick labels -->
<g font-size="9.8" stroke="#000" stroke-width="0.35">
<text x="49.8" y="366.4" textLength="12.8" lengthAdjust="spacingAndGlyphs">10</text>
<line x1="63.6" y1="359.2" x2="68.2" y2="359.2" stroke-width="0.95"/>
<text x="68.4" y="361.8" font-size="9.8" textLength="5.9" lengthAdjust="spacingAndGlyphs">5</text>
<text x="118.2" y="366.4" textLength="12.8" lengthAdjust="spacingAndGlyphs">10</text>
<line x1="132.2" y1="359.2" x2="136.4" y2="359.2" stroke-width="0.95"/>
<text x="136.4" y="361.7" font-size="9.8" textLength="6.3" lengthAdjust="spacingAndGlyphs">4</text>
<text x="198.5" y="366.9" text-anchor="middle" textLength="33" lengthAdjust="spacingAndGlyphs">0.001</text>
<text x="267.5" y="366.9" text-anchor="middle" textLength="33" lengthAdjust="spacingAndGlyphs">0.010</text>
<text x="336.2" y="366.9" text-anchor="middle" textLength="33" lengthAdjust="spacingAndGlyphs">0.100</text>
<text x="404.7" y="366.9" text-anchor="middle" textLength="6.5" lengthAdjust="spacingAndGlyphs">1</text>
<text x="474.2" y="366.9" text-anchor="middle" textLength="13.5" lengthAdjust="spacingAndGlyphs">10</text>
<!-- y labels -->
<text x="401.1" y="69.2" text-anchor="end" textLength="6.6" lengthAdjust="spacingAndGlyphs" font-size="9.4">4</text>
<text x="394.1" y="73.6" text-anchor="end" textLength="13.4" lengthAdjust="spacingAndGlyphs">10</text>
<text x="401.2" y="119.2" text-anchor="end" textLength="27.7" lengthAdjust="spacingAndGlyphs">1000</text>
<text x="401.2" y="166" text-anchor="end" textLength="20.5" lengthAdjust="spacingAndGlyphs">100</text>
<text x="400.8" y="212.8" text-anchor="end" textLength="13.2" lengthAdjust="spacingAndGlyphs">10</text>
<text x="400.8" y="259.4" text-anchor="end" textLength="6.2" lengthAdjust="spacingAndGlyphs">1</text>
<text x="401.2" y="306.2" text-anchor="end" textLength="26" lengthAdjust="spacingAndGlyphs">0.10</text>
</g>
<!-- axis labels -->
<text x="482.2" y="356.8" font-size="14.4">x</text>
<g font-size="14.2">
<path d="M366.5,17.9 L368.6,16.6" fill="none" stroke="#000" stroke-width="0.9"/>
<path d="M368.3,16.4 L372.8,25.4" fill="none" stroke="#000" stroke-width="2.1"/>
<path d="M372.8,26.1 L377.9,2.4 L405,2.4" fill="none" stroke="#000" stroke-width="1.0"/>
<text x="381.9" y="20.5">2</text>
<text x="393.6" y="20.5" font-style="italic">k</text>
<text x="406.9" y="20.5">x</text>
<line x1="416.5" y1="10" x2="416.5" y2="24.7" stroke="#000" stroke-width="1.1"/>
<text x="418.4" y="20.5">I</text>
<text x="428.1" y="20.5">A</text>
<line x1="441" y1="10" x2="441" y2="24.7" stroke="#000" stroke-width="1.1"/>
</g>
</svg>
</body></html>
